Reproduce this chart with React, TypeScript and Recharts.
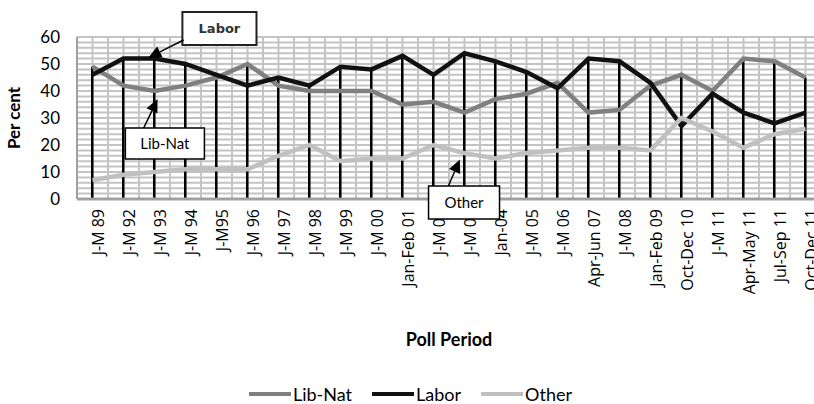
import React from 'react';
import {
  ComposedChart, Line, Bar, XAxis, YAxis, CartesianGrid, Legend,
  ReferenceArea, ReferenceLine,
} from 'recharts';

const categories = [
  'J-M 89', 'J-M 92', 'J-M 93', 'J-M 94', 'J-M95', 'J-M 96', 'J-M 97', 'J-M 98',
  'J-M 99', 'J-M 00', 'Jan-Feb 01', 'J-M 02', 'J-M 03', 'Jan-04', 'J-M 05', 'J-M 06',
  'Apr-Jun 07', 'J-M 08', 'Jan-Feb 09', 'Oct-Dec 10', 'J-M 11', 'Apr-May 11',
  'Jul-Sep 11', 'Oct-Dec 11',
];

const libNat = [49, 42, 40, 42, 45, 50, 42, 40, 40, 40, 35, 36, 32, 37, 39, 43, 32, 33, 42, 46, 40, 52, 51, 45];
const labor = [46, 52, 52, 50, 46, 42, 45, 42, 49, 48, 53, 46, 54, 51, 47, 41, 52, 51, 43, 27, 39, 32, 28, 32];
const other = [7, 9, 10, 11, 11, 11, 16, 20, 14, 15, 15, 20, 17, 15, 17, 18, 19, 19, 18, 30, 25, 19, 24, 26];

const yTicks = [0, 10, 20, 30, 40, 50, 60];

// callout boxes (x in category index units, y in per cent)
const callouts = [
  { text: 'Labor', x1: 2.9, x2: 5.29, y1: 57, y2: 69.3, tail: { x: 2.94, y: 58.9 }, head: { x: 1.8, y: 52.3 } },
  { text: 'Lib-Nat', x1: 1.06, x2: 3.61, y1: 14.8, y2: 26.3, tail: { x: 1.65, y: 26.3 }, head: { x: 2.1, y: 37 } },
  { text: 'Other', x1: 10.84, x2: 13.13, y1: -7.4, y2: 4.8, tail: { x: 11.48, y: 4.8 }, head: { x: 11.85, y: 14.6 } },
];

const data = categories.map((c, i) => ({
  period: c,
  libNat: libNat[i],
  labor: labor[i],
  other: other[i],
  drop: Math.max(libNat[i], labor[i], other[i]),
}));

const annData = categories.map((_, i) => ({ idx: i }));

const FONT = 'Lato, "Open Sans", sans-serif';
const TICK_FONT = '"Open Sans", Lato, sans-serif';

const series = [
  { key: 'libNat', name: 'Lib-Nat', color: '#808080' },
  { key: 'labor', name: 'Labor', color: '#111111' },
  { key: 'other', name: 'Other', color: '#c0c0c0' },
];

function Arrow(props: any) {
  const { x1, y1, x2, y2 } = props;
  const ang = Math.atan2(y2 - y1, x2 - x1);
  const len = 13;
  const wid = 6;
  const bx = x2 - len * Math.cos(ang);
  const by = y2 - len * Math.sin(ang);
  const px = -Math.sin(ang) * wid;
  const py = Math.cos(ang) * wid;
  return (
    <g>
      <line x1={x1} y1={y1} x2={bx} y2={by} stroke="#000" strokeWidth={1.5} />
      <polygon points={`${x2},${y2} ${bx + px},${by + py} ${bx - px},${by - py}`} fill="#000" />
    </g>
  );
}

function LegendContent() {
  return (
    <div style={{ display: 'flex', justifyContent: 'center', gap: 20, fontFamily: FONT, fontSize: 18, height: 20, alignItems: 'center' }}>
      {series.map(s => (
        <div key={s.key} style={{ display: 'flex', alignItems: 'center' }}>
          <span style={{ display: 'inline-block', width: 42, height: 4, background: s.color, marginRight: 2 }} />
          <span>{s.name}</span>
        </div>
      ))}
    </div>
  );
}

const W = 830;
const H = 404;

export default function App() {
  return (
    <div style={{ position: 'absolute', left: 0, top: 0, width: 814, height: 404, overflow: 'hidden', background: '#fff' }}>
      <div style={{ position: 'absolute', left: 0, top: 0 }}>
        <ComposedChart
          width={W}
          height={H}
          data={data}
          margin={{ top: 37, right: 9, left: 0, bottom: 0 }}
        >
          <CartesianGrid
            stroke="#c4c4c4"
            strokeWidth={2}
            horizontalCoordinatesGenerator={({ offset }: any) =>
              Array.from({ length: 31 }, (_, i) => offset.top + (i * offset.height) / 30)}
            verticalCoordinatesGenerator={({ offset }: any) =>
              Array.from({ length: 49 }, (_, i) => offset.left + (i * offset.width) / 48)}
          />
          <XAxis
            dataKey="period"
            interval={0}
            tickLine={false}
            tickSize={0}
            tickMargin={10}
            axisLine={{ stroke: '#a0a0a0', strokeWidth: 3 }}
            height={185}
            tick={{ angle: -90, textAnchor: 'end', verticalAnchor: 'middle', fontSize: 16, fill: '#000', fontFamily: TICK_FONT } as any}
            label={{ value: 'Poll Period', position: 'insideBottom', offset: 38, fontSize: 18, fontWeight: 'bold', fill: '#000', fontFamily: FONT }}
          />
          <YAxis
            width={77}
            domain={[0, 60]}
            ticks={yTicks}
            tickLine={false}
            tickSize={0}
            tickMargin={17}
            axisLine={{ stroke: '#a0a0a0', strokeWidth: 2 }}
            tick={{ fontSize: 17, fill: '#000', fontFamily: FONT }}
            label={{ value: 'Per cent', angle: -90, position: 'insideLeft', offset: 14, fontSize: 17, fontWeight: 'bold', fill: '#000', fontFamily: FONT, style: { textAnchor: 'middle' } }}
          />
          <Bar dataKey="drop" barSize={2.5} fill="#000" isAnimationActive={false} legendType="none" />
          {series.map(s => (
            <Line
              key={s.key}
              type="linear"
              dataKey={s.key}
              name={s.name}
              stroke={s.color}
              strokeWidth={4.5}
              dot={false}
              activeDot={false}
              isAnimationActive={false}
            />
          ))}
          <Legend verticalAlign="bottom" content={<LegendContent />} />
        </ComposedChart>
      </div>
      <div style={{ position: 'absolute', left: 0, top: 0, pointerEvents: 'none' }}>
        <ComposedChart
          width={W}
          height={H}
          data={annData}
          margin={{ top: 37, right: 9, left: 77, bottom: 205 }}
        >
          <XAxis dataKey="idx" type="number" domain={[-0.5, 23.5]} allowDataOverflow hide />
          <YAxis type="number" domain={[0, 60]} allowDataOverflow hide />
          {callouts.map(c => (
            <ReferenceLine
              key={c.text + '-arrow'}
              segment={[c.tail, c.head]}
              ifOverflow="visible"
              shape={(p: any) => <Arrow {...p} />}
            />
          ))}
          {callouts.map(c => (
            <ReferenceArea
              key={c.text}
              x1={c.x1} x2={c.x2} y1={c.y1} y2={c.y2}
              ifOverflow="visible"
              fill="#fff" fillOpacity={1}
              stroke={c.text === 'Labor' ? '#222' : '#000'}
              strokeWidth={c.text === 'Labor' ? 2 : 1.5}
              label={c.text === 'Labor'
                ? { value: c.text, position: 'center', fontSize: 13, fontWeight: 'bold', fill: '#333', fontFamily: '"DejaVu Sans", sans-serif' }
                : { value: c.text, position: 'center', fontSize: 15, fill: '#000', fontFamily: FONT }}
            />
          ))}
        </ComposedChart>
      </div>
    </div>
  );
}
